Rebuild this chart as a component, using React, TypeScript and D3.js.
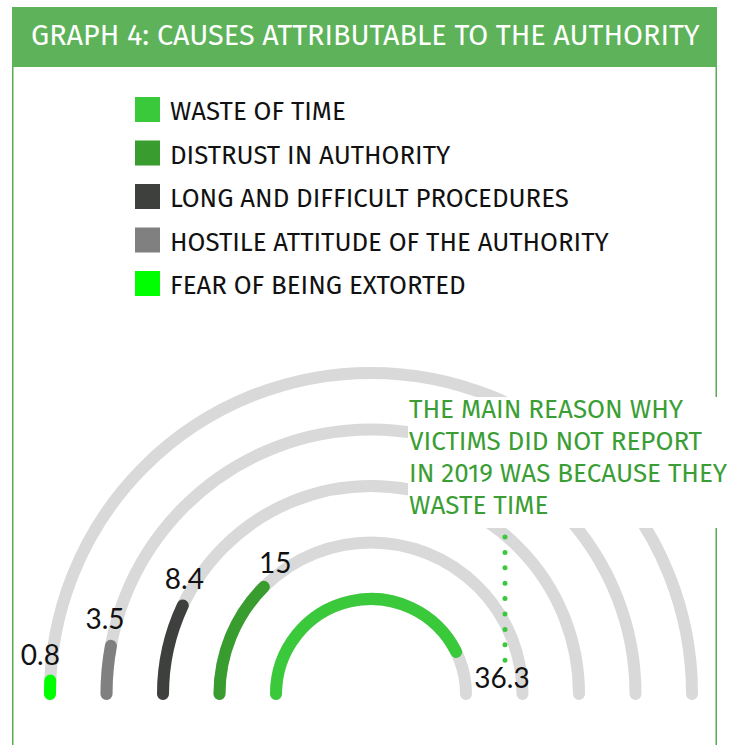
import { path, scaleLinear, scalePoint } from 'd3'

// Graph 4 — causes attributable to the authority, drawn as concentric half-rings.

const categories = [
  'WASTE OF TIME',
  'DISTRUST IN AUTHORITY',
  'LONG AND DIFFICULT PROCEDURES',
  'HOSTILE ATTITUDE OF THE AUTHORITY',
  'FEAR OF BEING EXTORTED',
]
const values = [36.3, 15, 8.4, 3.5, 0.8]
const colors = ['#39c93b', '#389c2e', '#3e403e', '#808080', '#00ff00']
const title = 'GRAPH 4: CAUSES ATTRIBUTABLE TO THE AUTHORITY'
const noteLines = ['THE MAIN REASON WHY', 'VICTIMS DID NOT REPORT', 'IN 2019 WAS BECAUSE THEY', 'WASTE TIME']

const W = 731
const H = 745
const CX = 371
const CY = 694
const STROKE = 12
const FONT = '"Fira Sans", "Open Sans", sans-serif'
const NUM_FONT = 'Lato, "Open Sans", sans-serif'
const GREEN_TEXT = '#3a9e35'
const BOX = { x: 408, y: 397, w: W - 408, h: 131 }

const rad = (d: number) => (d * Math.PI) / 180

export default function App() {
  // inner ring = first category
  const rScale = scalePoint<string>().domain(categories).range([95, 321])
  // the original graphic stretches the upper part of its scale (degrees swept)
  const angle = scaleLinear().domain([0, 20, 40]).range([0, 60, 175])

  const ring = (r: number, deg: number) => {
    const p = path()
    p.arc(CX, CY, r, Math.PI, Math.PI + rad(deg))
    return p.toString()
  }

  const topIdx = values.indexOf(Math.max(...values))
  const r0 = rScale(categories[topIdx]) ?? 95
  const leaderX = CX + r0 + 39

  return (
    <svg width={W} height={H} viewBox={`0 0 ${W} ${H}`} style={{ position: 'absolute', left: 0, top: 0 }}>
      <rect width={W} height={H} fill="#fff" />

      {/* header + frame */}
      <rect x={12} y={7} width={705} height={60} fill="#5db25a" />
      <text x={31} y={45} fill="#fff" fontFamily={FONT} fontSize={28.8}>
        {title}
      </text>
      <line x1={12.75} x2={12.75} y1={67} y2={H} stroke="#5aab52" strokeWidth={1.5} />
      <line x1={716.25} x2={716.25} y1={67} y2={H} stroke="#5aab52" strokeWidth={1.5} />

      {/* legend */}
      {categories.map((c, i) => (
        <g key={c} transform={`translate(0, ${97 + i * 43.5})`}>
          <rect x={135} y={0} width={25} height={25} fill={colors[i]} />
          <text x={170} y={23} fontFamily={FONT} fontSize={25.8} fill="#111">
            {c}
          </text>
        </g>
      ))}

      {/* tracks */}
      {categories.map((c) => (
        <path key={c} d={ring(rScale(c) ?? 0, 180)} fill="none" stroke="#d9d9d9" strokeWidth={STROKE} strokeLinecap="round" />
      ))}
      {/* values */}
      {categories.map((c, i) => (
        <path key={c} d={ring(rScale(c) ?? 0, angle(values[i]))} fill="none" stroke={colors[i]} strokeWidth={STROKE} strokeLinecap="round" />
      ))}

      {/* annotation */}
      <rect x={BOX.x} y={BOX.y} width={BOX.w} height={BOX.h} fill="#fff" />
      {noteLines.map((t, i) => (
        <text key={t} x={409} y={418 + i * 32} fontFamily={FONT} fontSize={26} fill={GREEN_TEXT}>
          {t}
        </text>
      ))}
      <line
        x1={leaderX}
        x2={leaderX}
        y1={BOX.y + BOX.h + 9}
        y2={662}
        stroke="#3cc83c"
        strokeWidth={5}
        strokeLinecap="round"
        strokeDasharray="0 15.4"
      />

      {/* value labels */}
      {categories.map((c, i) => {
        const r = rScale(c) ?? 0
        if (i === topIdx) {
          return (
            <text key={c} x={CX + r + 36} y={CY - 6} textAnchor="middle" fontFamily={NUM_FONT} fontSize={28} fill="#111">
              {values[i]}
            </text>
          )
        }
        const lr = r + 12
        const a = Math.PI + rad(angle(values[i])) + 26 / lr
        return (
          <text
            key={c}
            x={CX + lr * Math.cos(a)}
            y={CY + lr * Math.sin(a)}
            textAnchor="middle"
            dominantBaseline="central"
            fontFamily={NUM_FONT}
            fontSize={28}
            fill="#111"
          >
            {values[i]}
          </text>
        )
      })}
    </svg>
  )
}
